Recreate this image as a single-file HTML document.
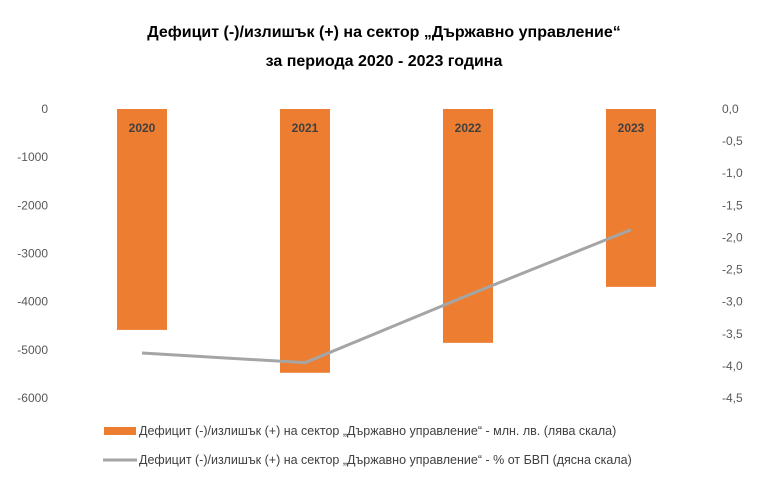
<!DOCTYPE html>
<html><head><meta charset="utf-8"><style>
body{margin:0;background:#fff;}
svg{display:block;font-family:"Liberation Sans","DejaVu Sans",sans-serif;}
</style></head><body>
<svg id="chart" width="768" height="495" viewBox="0 0 768 495">
<text x="384" y="37" text-anchor="middle" font-size="16" font-weight="bold" fill="#000">Дефицит (-)/излишък (+) на сектор „Държавно управление“</text>
<text x="384" y="66" text-anchor="middle" font-size="16" font-weight="bold" fill="#000">за периода 2020 - 2023 година</text>
<g id="left-axis"></g>
<g id="right-axis"></g>
<g id="bars"></g>
<g id="line"></g>
<g>
<rect x="104" y="427" width="32" height="8" fill="#ED7D31"/>
<text x="139" y="435" font-size="12.5" fill="#404040">Дефицит (-)/излишък (+) на сектор „Държавно управление“ - млн. лв. (лява скала)</text>
<line x1="103" y1="460" x2="137" y2="460" stroke="#A5A5A5" stroke-width="3"/>
<text x="139" y="464" font-size="12.5" fill="#404040">Дефицит (-)/излишък (+) на сектор „Държавно управление“ - % от БВП (дясна скала)</text>
</g>
</svg>
<script>
const categories=["2020","2021","2022","2023"];
const deficitMln=[-4586,-5477,-4855,-3693];
const deficitPct=[-3.8,-3.95,-2.9,-1.88];
const leftTicks=[0,-1000,-2000,-3000,-4000,-5000,-6000];
const rightTicks=[0,-0.5,-1,-1.5,-2,-2.5,-3,-3.5,-4,-4.5];
const NS="http://www.w3.org/2000/svg";
const top0=109,bottom=398;
const yL=v=>top0+(v/-6000)*(bottom-top0);
const yR=v=>top0+(v/-4.5)*(bottom-top0);
const xC=i=>142+i*163;
function mk(t,a,p){const e=document.createElementNS(NS,t);for(const k in a)e.setAttribute(k,a[k]);p.appendChild(e);return e;}
const la=document.getElementById('left-axis'),ra=document.getElementById('right-axis');
leftTicks.forEach(v=>{const t=mk('text',{x:48,y:yL(v)+4,'text-anchor':'end','font-size':12,fill:'#595959'},la);t.textContent=String(v);

});
rightTicks.forEach(v=>{const t=mk('text',{x:722,y:yR(v)+4,'font-size':12,fill:'#595959'},ra);t.textContent=v.toFixed(1).replace('.',',');

});
const bg=document.getElementById('bars');
categories.forEach((c,i)=>{const y0=yL(0),y1=yL(deficitMln[i]);
const r=mk('rect',{x:xC(i)-25,y:y0,width:50,height:y1-y0,fill:'#ED7D31'},bg);


const t=mk('text',{x:xC(i),y:132,'text-anchor':'middle','font-size':12,'font-weight':'bold',fill:'#404040'},bg);t.textContent=c;

});
const lg=document.getElementById('line');
const p=mk('polyline',{points:deficitPct.map((v,i)=>xC(i)+','+yR(v)).join(' '),fill:'none',stroke:'#A5A5A5','stroke-width':3,'stroke-linejoin':'round'},lg);


</script>
</body></html>
